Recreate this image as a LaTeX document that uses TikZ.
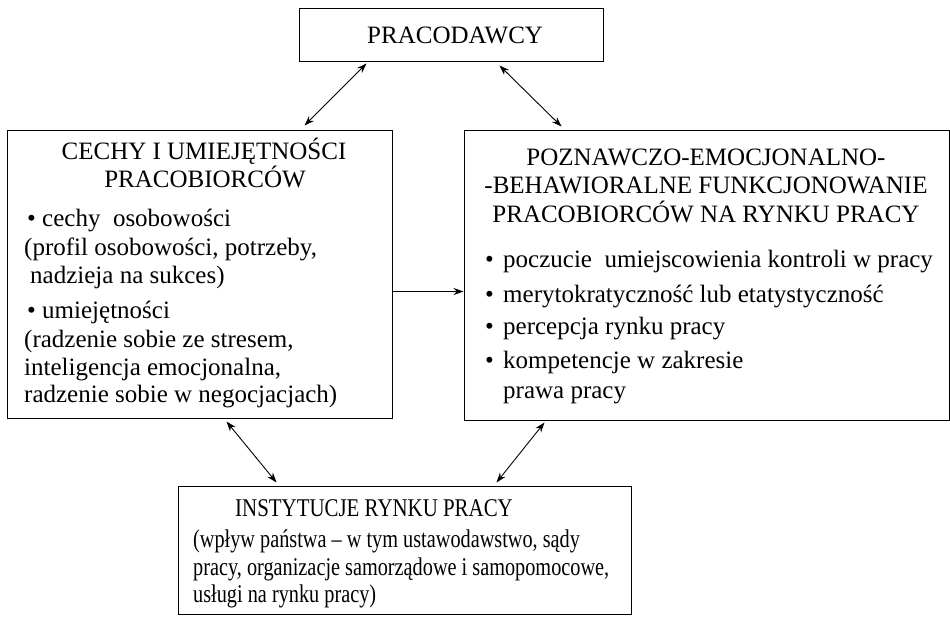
\documentclass[tikz,border=0pt]{standalone}
\usepackage{fontspec}
\setmainfont{Liberation Serif}
\newfontfamily\condtitle[FakeStretch=0.82]{Liberation Serif}
\newfontfamily\condtext[FakeStretch=0.795]{Liberation Serif}
\usetikzlibrary{arrows.meta,calc}
\begin{document}
\begin{tikzpicture}[x=1pt,y=-1pt,
  box/.style={draw=black,line width=1pt,inner sep=0pt,rectangle},
  txt/.style={inner sep=0pt,anchor=base west,font=\fontsize{25}{29}\selectfont},
  ctxt/.style={txt,anchor=base},
  btitle/.style={txt,font=\fontsize{25.5}{29}\condtitle},
  btxt/.style={txt,font=\fontsize{25.5}{29}\condtext},
  link/.style={line width=0.9pt,{Stealth[length=10pt,width=7pt]}-{Stealth[length=10pt,width=7pt]}},
  onelink/.style={line width=0.9pt,-{Stealth[length=10pt,width=7pt]}}]
\useasboundingbox (0,0) rectangle (950,616);
% boxes
\node[box,minimum width=304,minimum height=53] (top) at (451,34.5) {};
\node[box,minimum width=385,minimum height=288] (left) at (199.5,274) {};
\node[box,minimum width=485,minimum height=290] (right) at (706.5,275) {};
\node[box,minimum width=453,minimum height=128] (bottom) at (404.5,550) {};
% top text
\node[txt] (t1) at (367,43) {PRACODAWCY};
% left text
\node[ctxt] (l1) at (204,159) {CECHY I UMIEJĘTNOŚCI};
\node[ctxt] (l2) at (205,187) {PRACOBIORCÓW};
\node[txt] (l3) at (27,226) {\textbullet\ cechy\ \ osobowości};
\node[txt] (l4) at (24,255) {(profil osobowości, potrzeby,};
\node[txt] (l5) at (30,283) {nadzieja na sukces)};
\node[txt] (l6) at (27,318) {\textbullet\ umiejętności};
\node[txt] (l7) at (24,347) {(radzenie sobie ze stresem,};
\node[txt] (l8) at (24,375) {inteligencja emocjonalna,};
\node[txt] (l9) at (24,402) {radzenie sobie w negocjacjach)};
% right text
\node[ctxt] (r1) at (706,165) {POZNAWCZO-EMOCJONALNO-};
\node[ctxt] (r2) at (706,193) {-BEHAWIORALNE FUNKCJONOWANIE};
\node[ctxt] (r3) at (706,222) {PRACOBIORCÓW NA RYNKU PRACY};
\node[txt] (r4) at (485,267) {\textbullet};
\node[txt] (r4t) at (503,267) {poczucie\ \ umiejscowienia kontroli w pracy};
\node[txt] (r5) at (485,302) {\textbullet};
\node[txt] (r5t) at (503,302) {merytokratyczność lub etatystyczność};
\node[txt] (r6) at (485,334) {\textbullet};
\node[txt] (r6t) at (503,334) {percepcja rynku pracy};
\node[txt] (r7) at (485,368) {\textbullet};
\node[txt] (r7t) at (503,368) {kompetencje w zakresie};
\node[txt] (r8t) at (503,398) {prawa pracy};
% bottom text
\node[btitle] (b1) at (235,516) {INSTYTUCJE RYNKU PRACY};
\node[btxt] (b2) at (193,547) {(wpływ państwa – w tym ustawodawstwo, sądy};
\node[btxt] (b3) at (193,575) {pracy, organizacje samorządowe i samopomocowe,};
\node[btxt] (b4) at (193,602) {usługi na rynku pracy)};
% connectors
\draw[link] ($(top.south west)+(68,2)$) -- ($(left.north west)+(298,-4)$);
\draw[link] ($(top.south west)+(201,4)$) -- ($(right.north west)+(98,-3)$);
\draw[onelink] ($(left.north east)+(0,162)$) -- ($(right.north west)+(0,162)$);
\draw[link] ($(left.south west)+(220,3)$) -- ($(bottom.north west)+(99,-3)$);
\draw[link] ($(right.south west)+(81,2)$) -- ($(bottom.north west)+(319,-3)$);
\end{tikzpicture}
\end{document}
